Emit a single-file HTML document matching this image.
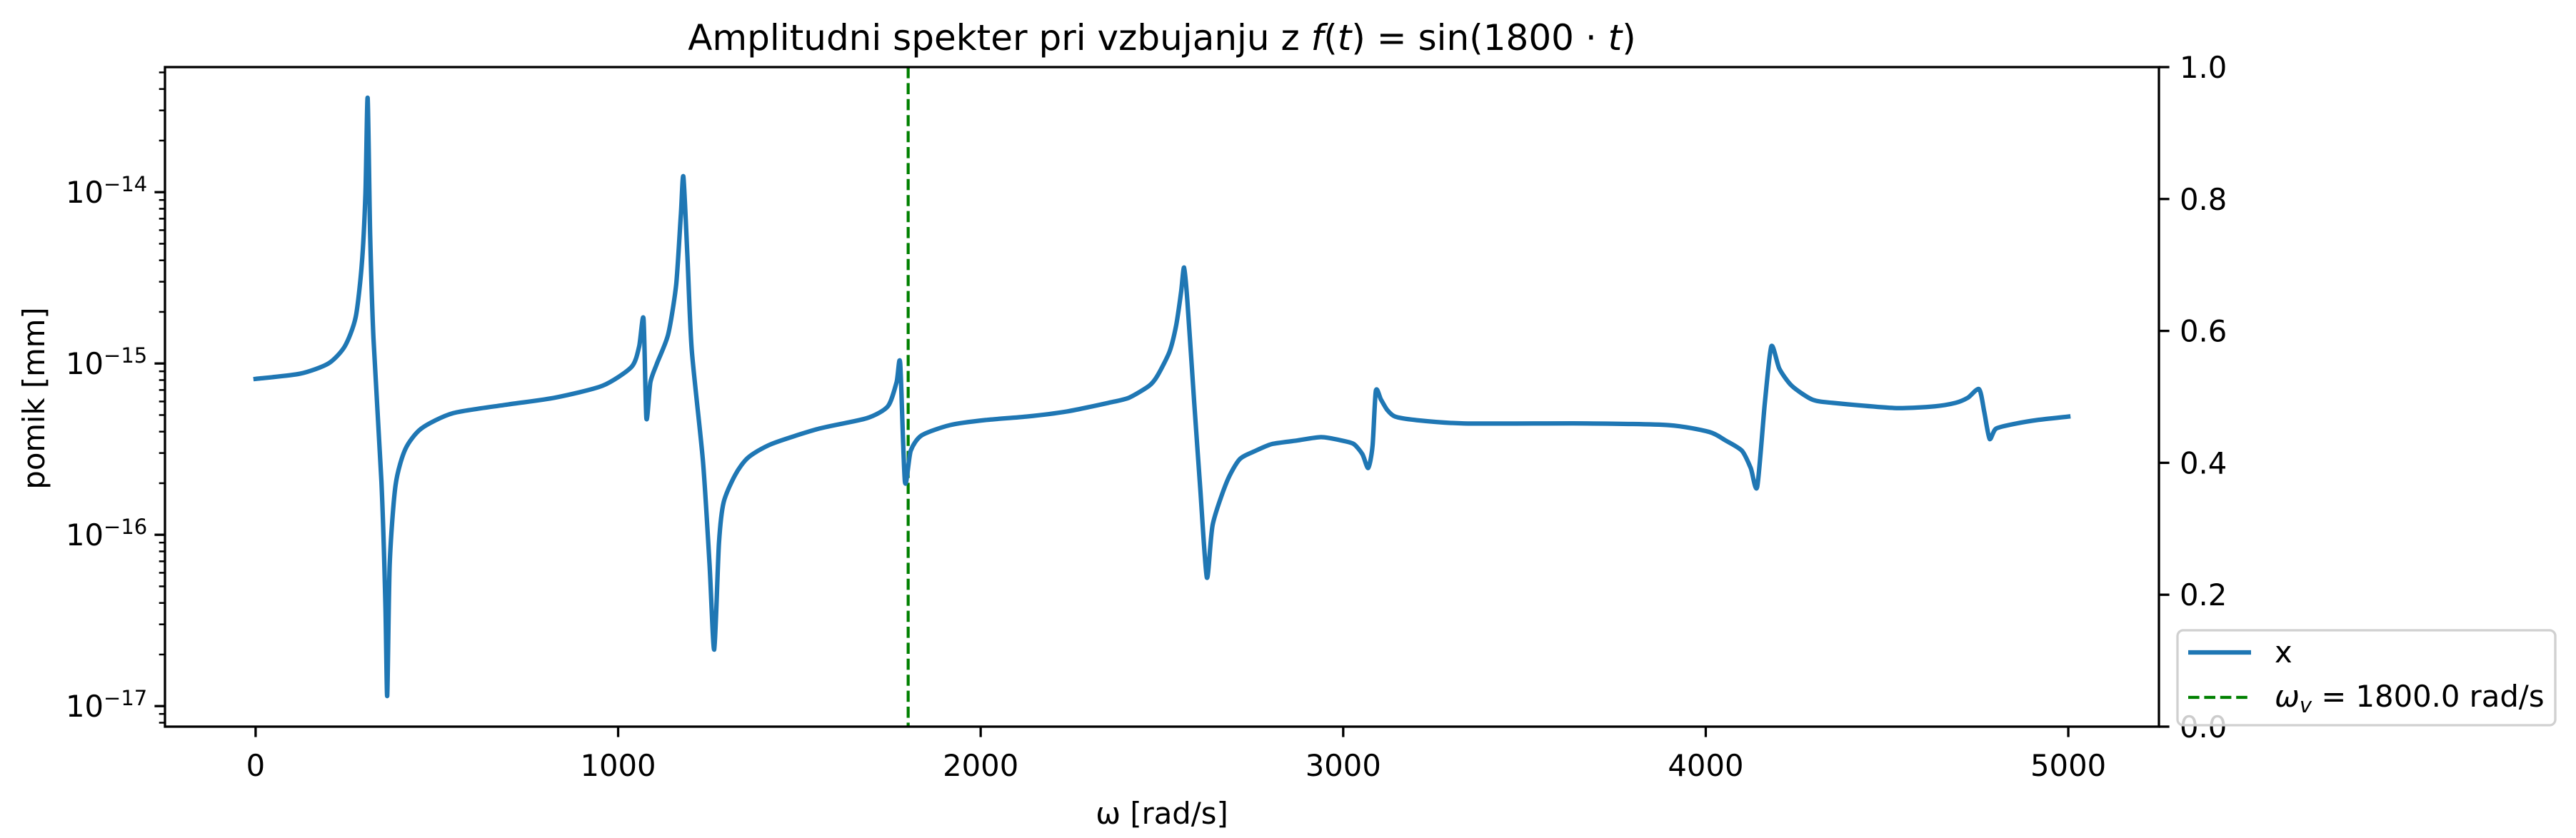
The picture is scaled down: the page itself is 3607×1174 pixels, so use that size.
<!DOCTYPE html>
<html><head><meta charset="utf-8"><style>
html,body{margin:0;padding:0;background:#fff;}
svg{display:block;font-family:"DejaVu Sans","Liberation Sans",sans-serif;}
</style></head><body>
<svg id="chart" width="3607" height="1174" viewBox="0 0 3607 1174" xmlns="http://www.w3.org/2000/svg">
<rect width="3607" height="1174" fill="#fff"/>
<text x="1627" y="70" font-size="50" text-anchor="middle">Amplitudni spekter pri vzbujanju z <tspan font-style="italic">f</tspan>(<tspan font-style="italic">t</tspan>) = sin(1800 · <tspan font-style="italic">t</tspan>)</text>
<g id="plot"></g>
<text x="1627" y="1154" font-size="41.7" text-anchor="middle">ω [rad/s]</text>
<text transform="translate(62,558) rotate(-90)" font-size="41.7" text-anchor="middle">pomik [mm]</text>
<g>
<rect x="3049" y="883" width="529" height="133" rx="8" fill="#fff" fill-opacity="0.8" stroke="#d0d0d0" stroke-width="3.3"/>
<line x1="3064" y1="914" x2="3152" y2="914" stroke="#1f77b4" stroke-width="6.25"/>
<text x="3185" y="928" font-size="41.7">x</text>
<line x1="3064" y1="977" x2="3152" y2="977" stroke="green" stroke-width="4.2" stroke-dasharray="15.6,6.8"/>
<text x="3185" y="990" font-size="41.7"><tspan font-style="italic">ω</tspan><tspan font-style="italic" font-size="29" dy="8">v</tspan><tspan dy="-8"> = 1800.0 rad/s</tspan></text>
</g>
</svg>
<script>
const omegaValues = [0,122,201,246,276,293,303,309,316,325,347,358,363,370,386,413,457,545,694,825,957,1037,1058,1070,1078,1089,1107,1138,1160,1173,1180,1191,1203,1234,1252,1265,1278,1291,1323,1358,1423,1555,1685,1744,1768,1778,1791,1807,1837,1915,2014,2126,2238,2352,2409,2465,2488,2521,2539,2553,2561,2570,2589,2606,2624,2640,2679,2714,2758,2804,2872,2939,2996,3029,3053,3069,3081,3090,3104,3121,3143,3199,3333,3671,3898,4010,4055,4100,4124,4142,4163,4181,4203,4237,4293,4350,4520,4632,4689,4723,4754,4768,4783,4801,4858,4915,5000];
const log10Amplitude = [-15.09,-15.06,-15.00,-14.90,-14.73,-14.42,-14.01,-13.45,-14.25,-14.85,-15.69,-16.40,-16.94,-16.17,-15.71,-15.50,-15.38,-15.29,-15.24,-15.20,-15.13,-15.02,-14.90,-14.74,-15.32,-15.11,-15.00,-14.83,-14.54,-14.13,-13.91,-14.37,-14.92,-15.57,-16.17,-16.67,-16.05,-15.81,-15.65,-15.55,-15.47,-15.38,-15.32,-15.25,-15.11,-15.00,-15.69,-15.51,-15.42,-15.36,-15.33,-15.31,-15.28,-15.23,-15.20,-15.13,-15.07,-14.93,-14.78,-14.58,-14.44,-14.63,-15.23,-15.74,-16.25,-15.94,-15.69,-15.56,-15.51,-15.47,-15.45,-15.43,-15.45,-15.47,-15.53,-15.61,-15.48,-15.16,-15.21,-15.27,-15.31,-15.33,-15.35,-15.35,-15.36,-15.40,-15.45,-15.51,-15.61,-15.72,-15.23,-14.90,-15.03,-15.13,-15.21,-15.23,-15.26,-15.25,-15.23,-15.20,-15.15,-15.28,-15.44,-15.38,-15.35,-15.33,-15.31];
const excitationOmega = [1800];
const xTicks = [0,1000,2000,3000,4000,5000];
const yDecades = [-14,-15,-16,-17];
const rightTicks = ["0.0","0.2","0.4","0.6","0.8","1.0"];

const L=231,R=3023,T=94,B=1018;
const xMin=-250,xMax=5250,logTop=-13.27,logBot=-17.12;
function X(v){return L+(v-xMin)/(xMax-xMin)*(R-L);}
function Y(lg){return T+(logTop-lg)/(logTop-logBot)*(B-T);}
function YR(v){return B-v*(B-T);}
const NS="http://www.w3.org/2000/svg";
const g=document.getElementById('plot');
function mk(tag,attrs,parent){const e=document.createElementNS(NS,tag);for(const k in attrs)e.setAttribute(k,attrs[k]);(parent||g).appendChild(e);return e;}

excitationOmega.forEach(w=>{
  const l=mk('line',{x1:X(w),x2:X(w),y1:T,y2:B,stroke:'green','stroke-width':4.2,'stroke-dasharray':'15.6,6.8'});
  
  
});
// smooth path (Catmull-Rom in screen space)
const pts=omegaValues.map((w,i)=>[X(w),Y(log10Amplitude[i])]);
let d='M'+pts[0][0].toFixed(1)+','+pts[0][1].toFixed(1);
for(let i=0;i<pts.length-1;i++){
  const p0=pts[Math.max(0,i-1)],p1=pts[i],p2=pts[i+1],p3=pts[Math.min(pts.length-1,i+2)];
  const t=0.12;
  const c1=[p1[0]+(p2[0]-p0[0])*t,p1[1]+(p2[1]-p0[1])*t];
  const c2=[p2[0]-(p3[0]-p1[0])*t,p2[1]-(p3[1]-p1[1])*t];
  d+='C'+c1[0].toFixed(1)+','+c1[1].toFixed(1)+' '+c2[0].toFixed(1)+','+c2[1].toFixed(1)+' '+p2[0].toFixed(1)+','+p2[1].toFixed(1);
}
const p=mk('path',{d:d,fill:'none',stroke:'#1f77b4','stroke-width':6.25,'stroke-linejoin':'round','stroke-linecap':'square'});



const sp=mk('rect',{x:L,y:T,width:R-L,height:B-T,fill:'none',stroke:'#000','stroke-width':3.3});



xTicks.forEach(v=>{
  const t=mk('line',{x1:X(v),x2:X(v),y1:B,y2:B+14.6,stroke:'#000','stroke-width':3.3});
  
  
  const tx=mk('text',{x:X(v),y:1087,'font-size':41.7,'text-anchor':'middle'});
  tx.textContent=v;
  
  
});
yDecades.forEach(k=>{
  const y=Y(k);
  const t=mk('line',{x1:L-14.6,x2:L,y1:y,y2:y,stroke:'#000','stroke-width':3.3});
  
  
  const tx=mk('text',{x:92,y:y+15,'font-size':41.7});
  
  
  tx.innerHTML='10<tspan font-size="29" dy="-16">−'+(-k)+'</tspan>';
});
for(let k=-18;k<=-13;k++){
  for(let m=2;m<=9;m++){
    const lg=k+Math.log10(m);
    if(lg>logTop||lg<logBot)continue;
    const y=Y(lg);
    const t=mk('line',{x1:L-8.3,x2:L,y1:y,y2:y,stroke:'#000','stroke-width':2.5});
    
    
  }
}
rightTicks.forEach(s=>{
  const y=YR(parseFloat(s));
  const t=mk('line',{x1:R,x2:R+14.6,y1:y,y2:y,stroke:'#000','stroke-width':3.3});
  
  
  const tx=mk('text',{x:3052,y:y+15,'font-size':41.7});
  tx.textContent=s;
  
  
});
</script>
</body></html>
